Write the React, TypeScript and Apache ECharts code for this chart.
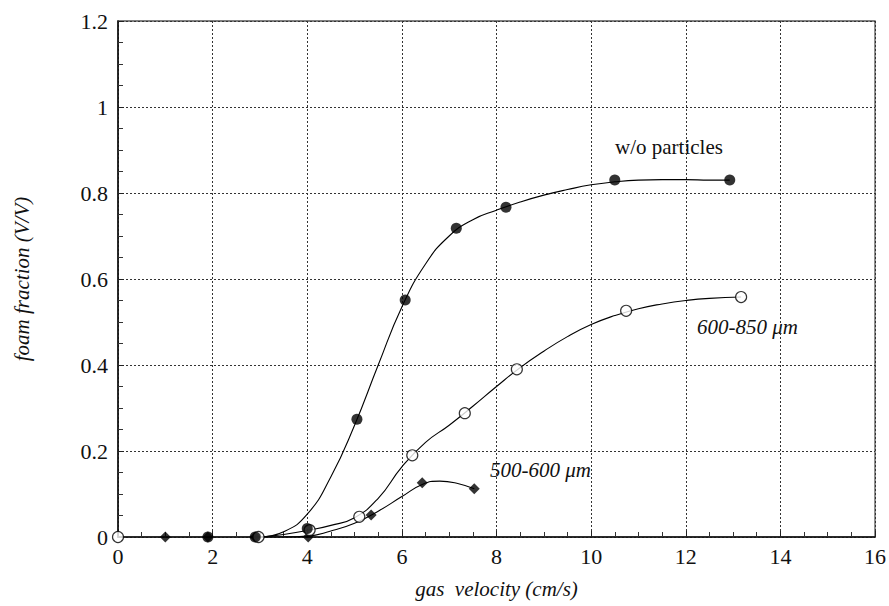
import React, { useEffect, useRef } from "react";
import * as echarts from "echarts";

// Measured points (gas velocity cm/s, foam fraction V/V)
const noParticlesPts: [number, number][] = [
  [1.9, 0], [2.9, 0], [4.0, 0.02], [5.05, 0.274], [6.07, 0.551],
  [7.15, 0.718], [8.2, 0.767], [10.5, 0.83], [12.93, 0.83],
];
const p600to850Pts: [number, number][] = [
  [0, 0], [2.97, 0], [4.05, 0.016], [5.1, 0.047], [6.22, 0.19],
  [7.33, 0.288], [8.43, 0.39], [10.74, 0.526], [13.17, 0.558],
];
const p500to600Pts: [number, number][] = [
  [1.0, 0], [1.9, 0], [2.9, 0], [4.02, 0], [5.35, 0.051], [6.43, 0.126], [7.53, 0.112],
];

// Fitted curves
const noParticlesFit: [number, number][] = [
  [3, 0], [3.5, 0.012], [4, 0.053], [4.5, 0.14], [5, 0.26], [5.5, 0.4],
  [6, 0.535], [6.5, 0.635], [7, 0.7], [7.5, 0.738], [8, 0.76], [8.5, 0.779],
  [9, 0.795], [9.5, 0.808], [10, 0.819], [10.5, 0.826], [11, 0.83], [11.5, 0.831],
  [12, 0.831], [12.5, 0.83], [12.93, 0.83],
];
const p600to850Fit: [number, number][] = [
  [3, 0], [3.5, 0.006], [4, 0.015], [4.5, 0.027], [5, 0.045], [5.5, 0.09],
  [6, 0.163], [6.5, 0.22], [7, 0.26], [7.5, 0.304], [8, 0.35], [8.5, 0.394],
  [9, 0.432], [9.5, 0.466], [10, 0.494], [10.5, 0.515], [11, 0.531], [11.5, 0.542],
  [12, 0.55], [12.5, 0.555], [13.17, 0.558],
];
const p500to600Fit: [number, number][] = [
  [3, 0], [3.5, 0], [4, 0.002], [4.5, 0.014], [5, 0.032], [5.5, 0.06],
  [6, 0.094], [6.43, 0.122], [6.8, 0.13], [7.2, 0.124], [7.53, 0.112],
];

const xTicks = [0, 2, 4, 6, 8, 10, 12, 14, 16];
const yTicks = [0, 0.2, 0.4, 0.6, 0.8, 1, 1.2];

const FONT = "'Liberation Serif', 'Times New Roman', 'DejaVu Serif', serif";

export default function App() {
  const ref = useRef<HTMLDivElement>(null);
  useEffect(() => {
    if (!ref.current) return;
    const chart = echarts.init(ref.current, undefined, { renderer: "svg" });
    const lineStyle = { color: "#000", width: 1.1 };
    const fitSeries = (data: [number, number][]) => ({
      type: "line",
      data,
      smooth: 0.5,
      showSymbol: false,
      symbol: "none",
      lineStyle,
      z: 2,
      silent: true,
    });
    chart.setOption({
      animation: false,
      backgroundColor: "#fff",
      textStyle: { fontFamily: FONT },
      grid: {
        left: 118, right: 13, top: 21, bottom: 69,
        show: true, borderColor: "#555", borderWidth: 1.3, backgroundColor: "transparent",
      },
      xAxis: {
        type: "value",
        min: xTicks[0],
        max: xTicks[xTicks.length - 1],
        interval: 2,
        name: "gas  velocity (cm/s)",
        nameLocation: "middle",
        nameGap: 41,
        nameTextStyle: { fontFamily: FONT, fontStyle: "italic", fontSize: 21, color: "#111" },
        axisLine: { show: true, onZero: false, lineStyle: { color: "#111", width: 1.6 } },
        axisTick: { show: true, inside: true, length: 6, lineStyle: { color: "#222" } },
        minorTick: { show: true, splitNumber: 4, length: 5, lineStyle: { color: "#333" } },
        axisLabel: { fontFamily: FONT, fontSize: 22, color: "#111", margin: 8 },
        splitLine: { show: true, lineStyle: { color: "#333", type: [2, 2], width: 1 } },
      },
      yAxis: {
        type: "value",
        min: yTicks[0],
        max: yTicks[yTicks.length - 1],
        interval: 0.2,
        name: "foam fraction (V/V)",
        nameLocation: "middle",
        nameGap: 86,
        nameTextStyle: { fontFamily: FONT, fontStyle: "italic", fontSize: 21, color: "#111" },
        axisLine: { show: true, onZero: false, lineStyle: { color: "#111", width: 1.6 } },
        axisTick: { show: true, inside: true, length: 6, lineStyle: { color: "#222" } },
        minorTick: { show: true, splitNumber: 4, length: 5, lineStyle: { color: "#333" } },
        axisLabel: {
          fontFamily: FONT, fontSize: 22, color: "#111", margin: 10,
          formatter: (v: number) => String(Math.round(v * 10) / 10),
        },
        splitLine: { show: true, lineStyle: { color: "#333", type: [2, 2], width: 1 } },
      },
      series: [
        fitSeries(noParticlesFit),
        fitSeries(p600to850Fit),
        fitSeries(p500to600Fit),
        {
          name: "500-600 μm",
          type: "scatter",
          data: p500to600Pts,
          symbol: "diamond",
          symbolSize: 11,
          itemStyle: { color: "#000" },
          z: 3,
        },
        {
          name: "600-850 μm",
          type: "scatter",
          data: p600to850Pts,
          symbol: "circle",
          symbolSize: 11,
          itemStyle: { color: "#fff", borderColor: "#000", borderWidth: 1.2 },
          z: 4,
        },
        {
          name: "w/o particles",
          type: "scatter",
          data: noParticlesPts,
          symbol: "circle",
          symbolSize: 11,
          itemStyle: { color: "#000" },
          z: 5,
        },
      ],
      graphic: [
        {
          type: "text", left: 615, top: 136,
          style: { text: "w/o particles", font: `21px ${FONT}`, fill: "#111" },
        },
        {
          type: "text", left: 697, top: 316,
          style: { text: "600-850 μm", font: `italic 21px ${FONT}`, fill: "#111" },
        },
        {
          type: "text", left: 490, top: 459,
          style: { text: "500-600 μm", font: `italic 21px ${FONT}`, fill: "#111" },
        },
      ],
    });
    return () => chart.dispose();
  }, []);
  return <div ref={ref} style={{ width: 889, height: 606, position: "absolute", left: 0, top: 0 }} />;
}
